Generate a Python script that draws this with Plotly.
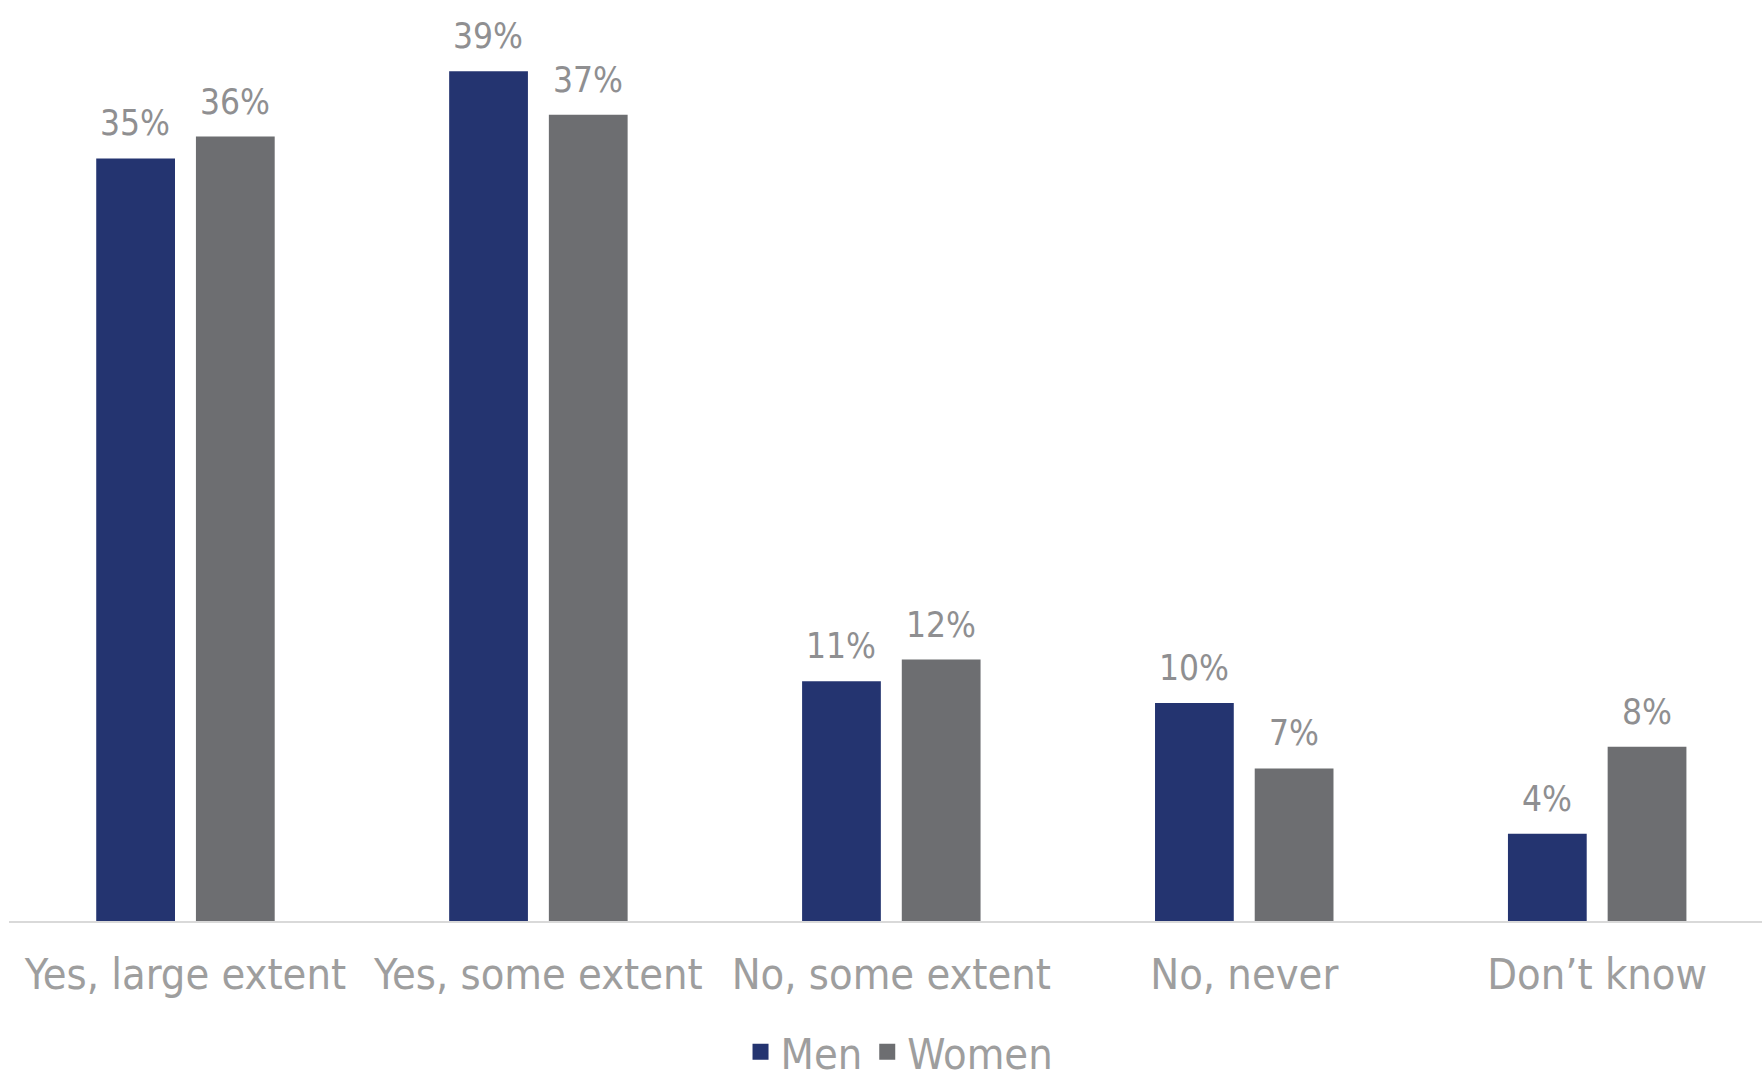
import plotly.graph_objects as go

categories = ["Yes, large extent", "Yes, some extent", "No, some extent", "No, never", "Don\u2019t know"]
men = [35, 39, 11, 10, 4]
women = [36, 37, 12, 7, 8]
series_names = ["Men", "Women"]

MEN_C = "#243470"
WOMEN_C = "#6D6E71"
LABEL_C = "#8F8F91"
TICK_C = "#9E9E9E"
FONT = "DejaVu Sans Condensed"
FS_TICK = 43
FS_LABEL = 35

fig = go.Figure()
for name, vals, col in [(series_names[0], men, MEN_C), (series_names[1], women, WOMEN_C)]:
    fig.add_trace(go.Bar(x=categories, y=vals, name=name, marker_color=col,
                         marker_line_width=0, showlegend=False))
    fig.add_trace(go.Scatter(x=[None], y=[None], mode="markers", name=name,
                             marker=dict(symbol="square", size=16, color=col)))

# data labels
offset_px = 50
for vals, sh in [(men, -offset_px), (women, offset_px)]:
    for c, v in zip(categories, vals):
        fig.add_annotation(x=c, y=v, text=f"{v}%", showarrow=False, xshift=sh,
                           yshift=13, yanchor="bottom",
                           font=dict(family=FONT, size=FS_LABEL, color=LABEL_C))

fig.update_layout(
    width=1762, height=1081,
    margin=dict(l=8.6, r=0, t=0, b=160),
    paper_bgcolor="white", plot_bgcolor="white",
    barmode="group", bargap=0.435, bargroupgap=0.21,
    font=dict(family=FONT, size=FS_TICK, color=TICK_C),
    showlegend=True,
    legend=dict(orientation="h", xanchor="center", x=0.508, yref="container",
                yanchor="middle", y=0.027, font=dict(family=FONT, size=FS_TICK, color=TICK_C),
                itemwidth=30, tracegroupgap=0, bgcolor="rgba(0,0,0,0)"),
    xaxis=dict(range=[-0.5, 4.467], showline=True, linecolor="#D9D9D9", linewidth=2,
               ticks="", tickfont=dict(family=FONT, size=FS_TICK, color=TICK_C),
               ticklabelstandoff=14, showgrid=False, zeroline=False, fixedrange=True),
    yaxis=dict(range=[0, 42.27], visible=False, showgrid=False, zeroline=False),
)

fig.write_html("out.html", config={"displayModeBar": False},
               post_script="document.body.style.margin='0';document.body.style.overflow='hidden';")
